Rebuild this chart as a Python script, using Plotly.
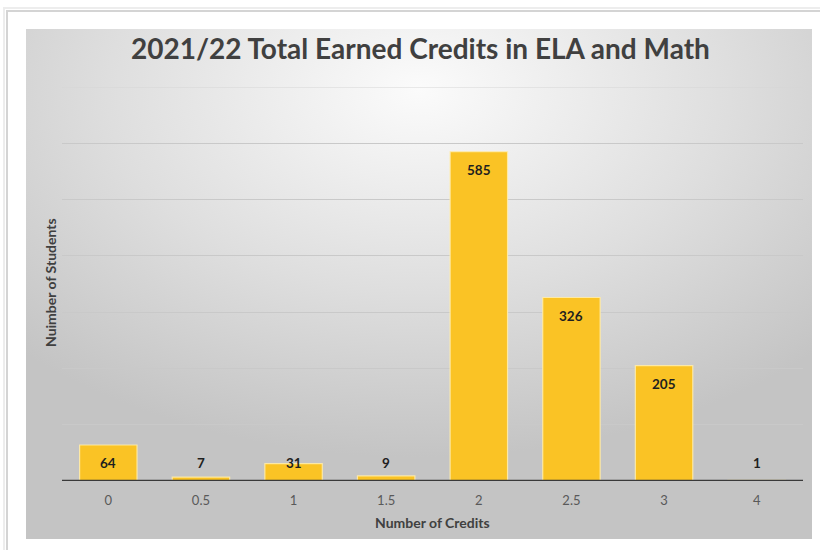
import base64
import plotly.graph_objects as go

# Data
credits = ["0", "0.5", "1", "1.5", "2", "2.5", "3", "4"]
students = [64, 7, 31, 9, 585, 326, 205, 1]

title_text = "2021/22 Total Earned Credits in ELA and Math"
x_title = "Number of Credits"
y_title = "Nuimber of Students"

W, H = 820, 550
L, R, T, B = 62, 17, 87, 69
PW, PH = W - L - R, H - T - B
YMAX = 700
FONT = "Lato"


def px_x(px):
    return (px - L) / PW


def px_y(py):
    return (H - B - py) / PH


# radial gradient panel behind the chart
svg = (
    "<svg xmlns='http://www.w3.org/2000/svg' width='786' height='510' preserveAspectRatio='none'>"
    "<defs><radialGradient id='g' cx='50%' cy='12%' r='72%' fx='50%' fy='12%'>"
    "<stop offset='0' stop-color='#fbfbfb'/>"
    "<stop offset='0.55' stop-color='#dedede'/>"
    "<stop offset='1' stop-color='#c4c4c4'/>"
    "</radialGradient></defs>"
    "<rect width='100%' height='100%' fill='url(#g)'/></svg>"
)
svg_uri = "data:image/svg+xml;base64," + base64.b64encode(svg.encode()).decode()

fig = go.Figure()
fig.add_trace(go.Bar(
    x=credits, y=students,
    marker=dict(color="#FAC325", line=dict(color="rgba(255,236,170,0.9)", width=1.2)),
    hoverinfo="x+y",
))

annotations = []
# value labels near the top of each bar (category index positions)
for i, v in enumerate(students):
    annotations.append(dict(
        x=i, y=max(v - 32, 32), xref="x", yref="y", text=f"<b>{v}</b>",
        showarrow=False, font=dict(family=FONT, size=13.5, color="#1f1f1f"),
        xanchor="center", yanchor="middle",
    ))

annotations += [
    dict(x=px_x(420), y=px_y(48), xref="paper", yref="paper",
         text=f"<b>{title_text}</b>", showarrow=False,
         font=dict(family=FONT, size=28, color="#404040"),
         xanchor="center", yanchor="middle"),
    dict(x=px_x(432), y=px_y(522), xref="paper", yref="paper",
         text=f"<b>{x_title}</b>", showarrow=False,
         font=dict(family=FONT, size=14, color="#404040"),
         xanchor="center", yanchor="middle"),
    dict(x=px_x(50), y=px_y(283), xref="paper", yref="paper",
         text=f"<b>{y_title}</b>", showarrow=False, textangle=-90,
         font=dict(family=FONT, size=14, color="#404040"),
         xanchor="center", yanchor="middle"),
]

shapes = [
    # outer frame with soft edge
    dict(type="rect", xref="paper", yref="paper",
         x0=px_x(7), x1=px_x(830), y0=px_y(560), y1=px_y(11),
         line=dict(color="#d4d4d4", width=2), fillcolor="rgba(0,0,0,0)", layer="below"),
    dict(type="rect", xref="paper", yref="paper",
         x0=px_x(4), x1=px_x(830), y0=px_y(560), y1=px_y(8),
         line=dict(color="#ededed", width=2), fillcolor="rgba(0,0,0,0)", layer="below"),
    # top gridline at the range maximum
    dict(type="line", xref="paper", yref="y", x0=0, x1=1, y0=YMAX, y1=YMAX,
         line=dict(color="#d6d6d6", width=1), layer="below"),
    # baseline
    dict(type="line", xref="paper", yref="y", x0=0, x1=1, y0=0, y1=0,
         line=dict(color="#3a3a3a", width=2.5), layer="above"),
]

fig.update_layout(
    width=W, height=H,
    margin=dict(l=L, r=R, t=T, b=B, pad=0),
    paper_bgcolor="white", plot_bgcolor="rgba(0,0,0,0)",
    bargap=0.38, showlegend=False,
    annotations=annotations, shapes=shapes,
    images=[dict(source=svg_uri, xref="paper", yref="paper",
                 x=px_x(26), y=px_y(29), sizex=px_x(812) - px_x(26),
                 sizey=px_y(29) - px_y(539), xanchor="left", yanchor="top",
                 sizing="stretch", layer="below")],
    xaxis=dict(type="category", showgrid=False, showline=False, zeroline=False,
               ticks="", ticklabelstandoff=10,
               tickfont=dict(family=FONT, size=13, color="#595959")),
    yaxis=dict(range=[0, YMAX], dtick=100, showgrid=True, gridcolor="#c9c9c9",
               gridwidth=1, showticklabels=False, zeroline=False, showline=False),
)

fig.write_html("out.html")
